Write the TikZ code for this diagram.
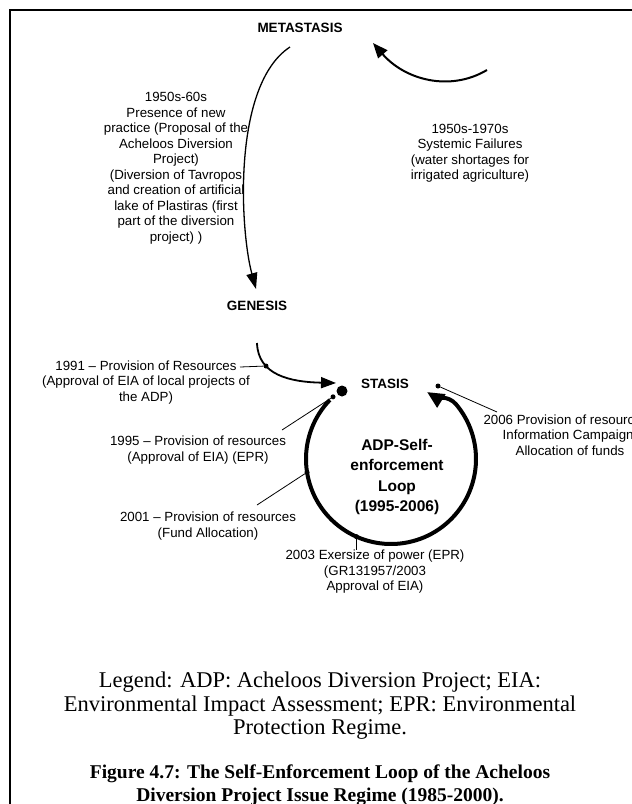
\documentclass[tikz,border=0pt]{standalone}
\usepackage{fontspec}
\setmainfont{Liberation Serif}
\setsansfont{Liberation Sans}
\usetikzlibrary{arrows.meta,calc}

\begin{document}
\begin{tikzpicture}[x=1pt,y=1pt,
  lbl/.style={font=\sffamily\fontsize{13.3}{15.5}\selectfont, align=center, inner sep=0pt},
  stage/.style={font=\sffamily\bfseries\fontsize{13.5}{16}\selectfont, inner sep=0pt},
  loopttl/.style={font=\sffamily\bfseries\fontsize{15.5}{20.5}\selectfont, align=center, inner sep=0pt},
  note/.style={font=\fontsize{22.5}{23.5}\selectfont, align=center, inner sep=0pt},
  capt/.style={font=\bfseries\fontsize{19.5}{23}\selectfont, align=center, inner sep=0pt},
  leader/.style={line width=0.8pt},
  dot/.style={circle, fill=black, inner sep=0pt, minimum size=5pt},
  hubdot/.style={circle, fill=black, inner sep=0pt, minimum size=11pt},
  flow/.style={line width=1.8pt, -{Triangle[length=15pt,width=11pt]}},
]
\useasboundingbox (0,0) rectangle (632,-804);
\clip (0,0) rectangle (632,-804);
\fill[white] (0,0) rectangle (632,-804);

% frame
\draw[line width=2pt] (632,-10) -- (10,-10) -- (10,-804);

% stages
\node[stage] (meta) at (300,-28) {METASTASIS};
\node[stage] (gen) at (257,-306) {GENESIS};
\node[stage] (stasis) at (385,-384) {STASIS};
\node[loopttl] (adp) at (397,-477) {ADP-Self-\\enforcement\\Loop\\(1995-2006)};

% metastasis -> genesis
\coordinate (la) at (290,-47);
\coordinate (lb) at (256,-289);
\draw[line width=1.3pt, -{Triangle[length=16pt,width=11pt]}]
  (la) .. controls (232,-85) and (240,-230) .. (lb);

% systemic failures -> metastasis
\coordinate (ra) at (487,-70);
\coordinate (rb) at (373,-43);
\draw[line width=2pt, -{Triangle[length=15pt,width=12pt]}]
  (ra) .. controls (450,-92) and (405,-80) .. (rb);

% genesis -> stasis
\coordinate (ga) at (257,-343);
\coordinate (gb) at (336,-383);
\draw[flow] (ga) .. controls (258,-375) and (290,-382) .. (gb);
\node[dot] (d91) at (266,-366) {};
\node[hubdot] (hub) at (342,-391) {};

% self-enforcement loop: circle, then a short bend into the arrow tip
\coordinate (c) at (391,-459);
\coordinate (lt) at (427,-392);
\draw[line width=4pt, -{Triangle[length=17pt,width=15pt]}]
  ($(c)+(136:85)$) arc[start angle=136, end angle=400, radius=85]
  .. controls (448.4,-395.2) and (435.5,-397.3) .. (lt);
\node[dot] (d95) at ($(c)+(133:85)$) {};
\node[dot] (d01) at ($(c)+(189:85)$) {};
\node[dot] (d03) at ($(c)+(246:85)$) {};
\node[dot] (d06) at (438,-386) {};

% labels
\node[lbl] (l50) at (176,-168) {1950s-60s\\Presence of new\\practice (Proposal of the\\Acheloos Diversion\\Project)\\(Diversion of Tavropos\\and creation of artificial\\lake of Plastiras (first\\part of the diversion\\project) )};
\node[lbl] (l70) at (470,-153) {1950s-1970s\\Systemic Failures\\(water shortages for\\irrigated agriculture)};
\node[lbl] (l91) at (146,-382.5) {1991 -- Provision of Resources\\(Approval of EIA of local projects of\\the ADP)};
\node[lbl] (l95) at (198,-450) {1995 -- Provision of resources\\(Approval of EIA) (EPR)};
\node[lbl] (l01) at (208,-526) {2001 -- Provision of resources\\(Fund Allocation)};
\node[lbl] (l03) at (375,-572) {2003 Exersize of power (EPR)\\(GR131957/2003\\Approval of EIA)};
\node[lbl] (l06) at (570,-435) {2006 Provision of resources (\\Information Campaign,\\Allocation of funds};

% leaders
\coordinate (l91e) at (240,-367);
\draw[leader] (l91e) -- (d91);
\coordinate (l95e) at (282,-430);
\draw[leader] (l95e) -- (d95);
\coordinate (l01e) at (257,-505);
\draw[leader] (l01e) -- (d01);
\draw[leader] (d03) -- (d03 |- l03.north);
\coordinate (l06e) at (497,-412);
\draw[leader] (d06) -- (l06e);

% legend and caption
\node[note] (legend) at (320,-706) {Legend: ADP: Acheloos Diversion Project; EIA:\\Environmental Impact Assessment; EPR: Environmental\\Protection Regime.};
\node[capt] (caption) at (320,-785) {Figure 4.7: The Self-Enforcement Loop of the Acheloos\\Diversion Project Issue Regime (1985-2000).};
\end{tikzpicture}
\end{document}
